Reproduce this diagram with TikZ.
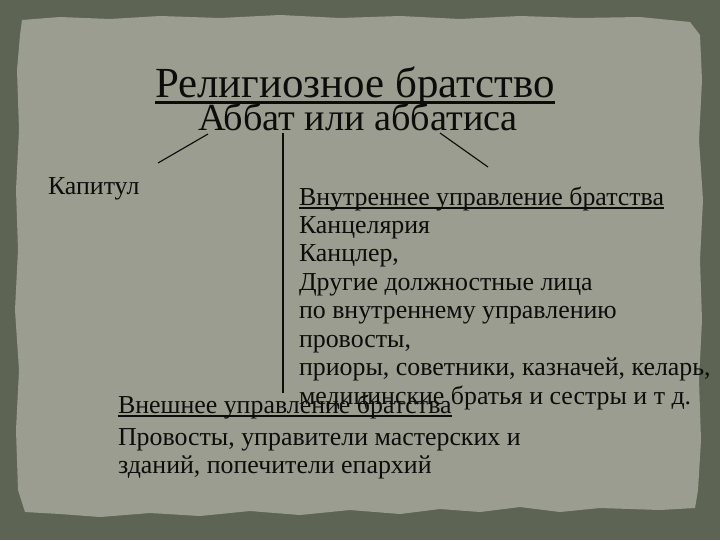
\documentclass[tikz,border=0pt]{standalone}
\usepackage{fontspec}
\setmainfont{Liberation Serif}
\usepackage{tikz}
\usetikzlibrary{positioning,calc}
\definecolor{board}{RGB}{94,100,84}
\definecolor{paper}{RGB}{155,157,145}
\definecolor{ink}{RGB}{12,12,10}
\tikzset{txt/.style={anchor=base west, inner sep=0pt, outer sep=0pt, text=ink}}
\tikzset{ttl/.style={txt, font=\fontsize{30.5}{34}\selectfont}}
\tikzset{sub/.style={txt, font=\fontsize{27.2}{30}\selectfont}}
\tikzset{body/.style={txt, font=\fontsize{18.4}{20}\selectfont}}
\tikzset{lnk/.style={draw=ink, line width=0.8pt}}
\newcommand\ulline[2][1.3pt]{\setbox0=\hbox{#2}\rlap{\copy0}\rule[-0.16em]{\wd0}{#1}}

\begin{document}
\begin{tikzpicture}[x=0.025cm, y=-0.025cm]
	\useasboundingbox (0,0) rectangle (720,540);
	\fill[board] (0,0) rectangle (720,540);
	% torn sheet
	\fill[paper] (22,20) -- (60,17) -- (110,19) -- (160,16) -- (220,18) -- (280,15) -- (340,18)
		-- (400,16) -- (460,19) -- (520,16) -- (580,18) -- (640,17) -- (690,22)
		-- (700,35) -- (702,80) -- (699,140) -- (703,200) -- (700,260) -- (702,320)
		-- (699,380) -- (701,440) -- (698,490) -- (695,508)
		-- (660,510) -- (600,508) -- (560,512) -- (520,507) -- (480,512) -- (440,509)
		-- (400,514) -- (350,510) -- (300,515) -- (250,511) -- (200,516) -- (150,513)
		-- (100,517) -- (60,514) -- (25,512)
		-- (18,490) -- (16,430) -- (19,370) -- (15,310) -- (18,250) -- (16,190)
		-- (19,130) -- (17,70) -- (20,35) -- cycle;

	\node[ttl] (title) at (155,97) {\ulline[1.8pt]{Религиозное братство}};
	\node[sub] (abbat) at (198,130) {Аббат или аббатиса};
	\node[body] (kap) at (48,194) {Капитул};

	% inner management
	\node[body] (inner) at (299,205) {\ulline{Внутреннее управление братства}};
	\foreach \t [count=\i] in {{Канцелярия},{Канцлер,},{Другие должностные лица},
			{по внутреннему управлению},{провосты,},
			{приоры, советники, казначей, келарь,},{медицинские братья и сестры и т д.}}
		\node[body] (inner\i) at (299,{205+28.43*\i}) {\t};

	% outer management
	\node[body] (outer) at (118,413) {\ulline{Внешнее управление братства}};
	\node[body] (outer1) at (118,445) {Провосты, управители мастерских и};
	\node[body] (outer2) at (118,473) {зданий, попечители епархий};

	\coordinate (kapend) at (158,163);
	\coordinate (vend) at (283,393);
	\coordinate (inend) at (488,167);
	\draw[lnk] ($(abbat.base west)+(10,4)$) -- (kapend);
	\draw[lnk] ($(abbat.base west)+(85,3)$) -- (vend);
	\draw[lnk] ($(abbat.base west)+(242,3)$) -- (inend);
\end{tikzpicture}
\end{document}
